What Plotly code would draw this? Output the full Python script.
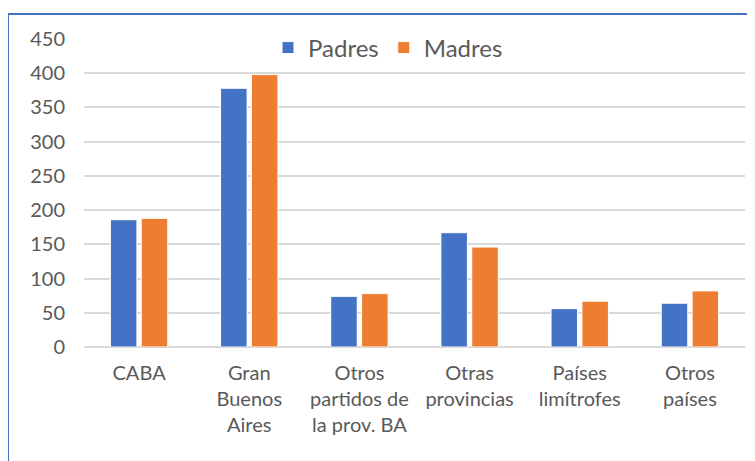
import plotly.graph_objects as go

categories = ["CABA", "Gran<br>Buenos<br>Aires", "Otros<br>partidos de<br>la prov. BA",
              "Otras<br>provincias", "Países<br>limítrofes", "Otros<br>países"]
padres = [186, 378, 74, 167, 56, 64]
madres = [188, 398, 78, 146, 67, 82]
y_ticks = [0, 50, 100, 150, 200, 250, 300, 350, 400, 450]

# the page body adds an 8px offset; the figure is sized to compensate
W, H = 747, 453
L, R, T, B = 76, 10, 31, 114
pw, ph = W - L - R, H - T - B

def px2x(px):
    return (px - L) / pw

def py2y(py):
    return (H - B - py) / ph

FONT = "Lato, Carlito, sans-serif"
GRAY = "#595959"

fig = go.Figure()
fig.add_trace(go.Bar(name="Padres", x=categories, y=padres, marker_color="#4472C4",
                     marker_line=dict(color="white", width=1)))
fig.add_trace(go.Bar(name="Madres", x=categories, y=madres, marker_color="#ED7D31",
                     marker_line=dict(color="white", width=1)))

fig.update_layout(
    width=W, height=H,
    margin=dict(l=L, r=R, t=T, b=B, autoexpand=False),
    paper_bgcolor="white", plot_bgcolor="white",
    barmode="group", bargap=0.44, bargroupgap=0.14,
    font=dict(family=FONT, color=GRAY),
    showlegend=True,
    legend=dict(orientation="h", x=px2x(380), xanchor="center", y=py2y(40), yanchor="middle",
                bgcolor="white", font=dict(size=24, family=FONT, color=GRAY),
                traceorder="normal", itemwidth=30),
    xaxis=dict(tickfont=dict(size=20, family=FONT, color=GRAY), showline=False,
               ticks="", showgrid=False, ticklabelstandoff=12),
    yaxis=dict(range=[0, 450], tickvals=y_ticks, tickfont=dict(size=20, family=FONT, color=GRAY),
               showgrid=True, gridcolor="#d9d9d9", gridwidth=1.5, zeroline=True,
               zerolinecolor="#d9d9d9", zerolinewidth=1.5, ticks="", ticklabelstandoff=18),
    shapes=[
        dict(type="line", xref="paper", yref="paper", x0=px2x(0), x1=px2x(760), y0=py2y(6), y1=py2y(6),
             line=dict(color="#4472C4", width=2)),
        dict(type="line", xref="paper", yref="paper", x0=px2x(0), x1=px2x(0), y0=py2y(6), y1=py2y(470),
             line=dict(color="#4472C4", width=2)),
    ],
)

fig.write_html("out.html")
